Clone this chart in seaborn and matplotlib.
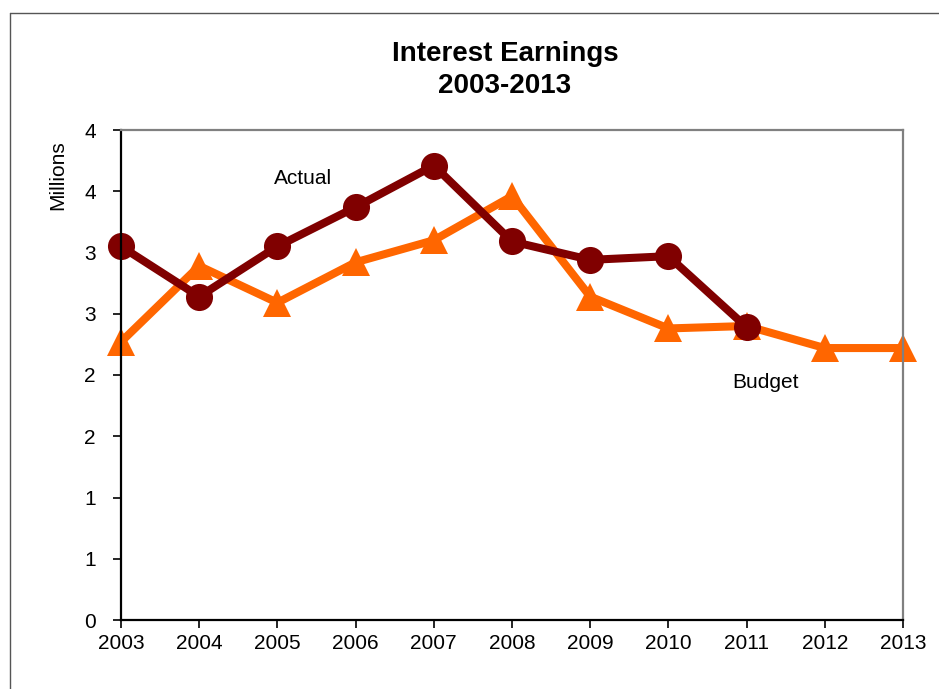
import pandas as pd
import seaborn as sns
import matplotlib.pyplot as plt
from matplotlib.lines import Line2D

years = list(range(2003, 2014))
actual = [3.05, 2.64, 3.05, 3.37, 3.71, 3.09, 2.94, 2.97, 2.39]
budget = [2.27, 2.89, 2.59, 2.92, 3.10, 3.46, 2.64, 2.38, 2.40, 2.22, 2.22]
y_ticks = [0, 0.5, 1.0, 1.5, 2.0, 2.5, 3.0, 3.5, 4.0]
y_tick_labels = ["0", "1", "1", "2", "2", "3", "3", "4", "4"]

df = pd.concat([
    pd.DataFrame({"Year": years[:len(actual)], "Millions": actual, "Series": "Actual"}),
    pd.DataFrame({"Year": years, "Millions": budget, "Series": "Budget"}),
])

sns.set_style("white")
plt.rcParams["font.family"] = ["Liberation Sans", "DejaVu Sans"]
plt.rcParams["text.color"] = "black"
plt.rcParams["xtick.color"] = "black"
plt.rcParams["ytick.color"] = "black"

fig = plt.figure(figsize=(9.39, 6.89), dpi=100)
ax = fig.add_axes([121 / 939, 1 - 620 / 689, (903 - 121) / 939, (620 - 130) / 689])

sns.lineplot(data=df, x="Year", y="Millions", hue="Series", style="Series",
             hue_order=["Budget", "Actual"], style_order=["Budget", "Actual"],
             palette={"Actual": "#800000", "Budget": "#FF6600"},
             markers={"Actual": "o", "Budget": "^"}, dashes=False,
             markersize=19.5, markeredgewidth=0, linewidth=5.8,
             legend=False, ax=ax)
for ln in ax.lines:
    ln.set_clip_on(False)

ax.set_xlim(2003, 2013)
ax.set_ylim(0, 4)
ax.set_xticks(years)
ax.set_xticklabels([str(y) for y in years], fontsize=15)
ax.set_yticks(y_ticks)
ax.set_yticklabels(y_tick_labels, fontsize=15)
ax.tick_params(axis="x", direction="out", length=6, width=1.2, pad=4, bottom=True)
ax.tick_params(axis="y", direction="out", length=6, width=1.2, pad=12, left=True)
ax.set_xlabel("")
ax.set_ylabel("")

for side in ["left", "bottom"]:
    ax.spines[side].set_color("black")
    ax.spines[side].set_linewidth(1.6)
for side in ["top", "right"]:
    ax.spines[side].set_color("#808080")
    ax.spines[side].set_linewidth(1.6)

ax.text(2005.33, 3.60, "Actual", fontsize=15, ha="center", va="center")
ax.text(2011.24, 1.94, "Budget", fontsize=15, ha="center", va="center")

fig.text(505 / 939, 1 - 70 / 689, "Interest Earnings\n2003-2013", fontsize=20,
         fontweight="bold", ha="center", va="center", linespacing=1.3)
fig.text(58 / 939, 1 - 175 / 689, "Millions", fontsize=15, rotation=90,
         ha="center", va="center")

# outer frame (only the left and top edges fall inside the image)
fig.add_artist(Line2D([10 / 939, 10 / 939], [0, 1 - 13 / 689], color="#555555", lw=1))
fig.add_artist(Line2D([10 / 939, 1], [1 - 13 / 689, 1 - 13 / 689], color="#555555", lw=1))

fig.savefig("out.png", dpi=100)
